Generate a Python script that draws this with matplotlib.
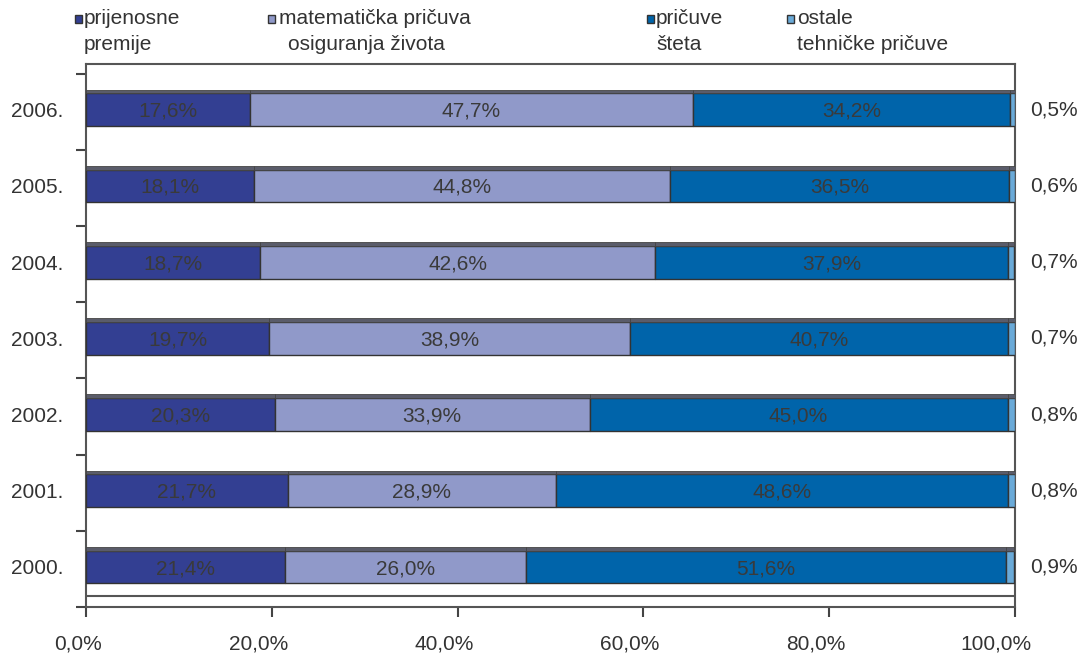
import matplotlib
matplotlib.use("Agg")
import matplotlib.pyplot as plt
from matplotlib.patches import Rectangle
from matplotlib.ticker import FixedLocator
from matplotlib.transforms import ScaledTranslation

plt.rcParams['font.family'] = ['Liberation Sans', 'DejaVu Sans']

years = ["2000.", "2001.", "2002.", "2003.", "2004.", "2005.", "2006."]
series_names = ["prijenosne\npremije", "matematička pričuva\nosiguranja života",
                "pričuve\nšteta", "ostale\ntehničke pričuve"]
prijenosne = [21.4, 21.7, 20.3, 19.7, 18.7, 18.1, 17.6]
matematicka = [26.0, 28.9, 33.9, 38.9, 42.6, 44.8, 47.7]
steta = [51.6, 48.6, 45.0, 40.7, 37.9, 36.5, 34.2]
ostale = [0.9, 0.8, 0.8, 0.7, 0.7, 0.6, 0.5]
xticks = [0, 20, 40, 60, 80, 100]
xtick_labels = ["0,0%", "20,0%", "40,0%", "60,0%", "80,0%", "100,0%"]

colors = ["#333f92", "#9099c9", "#0064aa", "#6aaad8"]
strip_color = "#5a5c6a"
text_col = "#333333"
FS = 15

fig = plt.figure(figsize=(10.84, 6.57), dpi=100)
ax = fig.add_axes([86/1084, 1-607/657, 929/1084, (607-64)/657])

series = [prijenosne, matematicka, steta, ostale]
ypos = list(range(len(years)))
lefts = [0.0]*len(years)
h = 0.43
for vals, col in zip(series, colors):
    ax.barh(ypos, vals, left=lefts, height=h, color=col, edgecolor="#333333", linewidth=1.0, zorder=3)
    ax.barh([y + h/2 + 0.025 for y in ypos], vals, left=lefts, height=0.05,
            color=strip_color, edgecolor="#444444", linewidth=0.6, zorder=3)
    lefts = [l + v for l, v in zip(lefts, vals)]

def fmt(v):
    return f"{v:.1f}%".replace(".", ",")

# in-bar labels for the first three series
lefts = [0.0]*len(years)
for vals in series[:3]:
    for y, l, v in zip(ypos, lefts, vals):
        ax.text(l + v/2, y - 0.02, fmt(v), ha="center", va="center", fontsize=FS,
                color="#3a3a3a", zorder=4)
    lefts = [l + v for l, v in zip(lefts, vals)]
for y, v in zip(ypos, ostale):
    ax.text(101.6, y, fmt(v), ha="left", va="center", fontsize=FS, color=text_col, clip_on=False)

# floor line
ax.axhline(-0.38, color="#555555", lw=1.5, zorder=2)

ax.set_xlim(0, 100)
ax.set_ylim(-0.525, 6.6)
ax.set_xticks(xticks)
ax.set_xticklabels(xtick_labels, fontsize=FS, color=text_col)
ax.set_yticks(ypos)
ax.set_yticklabels(years, fontsize=FS, color=text_col)
ax.tick_params(axis="y", which="major", length=0, pad=16.5)
ax.yaxis.set_minor_locator(FixedLocator([k - 0.525 for k in range(8)]))
ax.tick_params(axis="y", which="minor", length=7, width=1.5, color="#444444", direction="out")
ax.tick_params(axis="x", length=7, width=1.5, color="#444444", pad=13)
off = ScaledTranslation(16/100, 0, fig.dpi_scale_trans)
for lab in ax.get_xticklabels():
    lab.set_horizontalalignment("right")
    lab.set_transform(lab.get_transform() + off)
for s in ax.spines.values():
    s.set_color("#555555")
    s.set_linewidth(1.5)

# legend
leg_x = [75, 268, 647, 787]
leg_tx = [[84, 84], [279, 288], [656, 656], [797, 797]]
for name, col, sx, tx in zip(series_names, colors, leg_x, leg_tx):
    l1, l2 = name.split("\n")
    fig.patches.append(Rectangle((sx/1084, 1-23/657), 7/1084, 8/657, transform=fig.transFigure,
                                 facecolor=col, edgecolor="#333333", linewidth=1.0))
    fig.text(tx[0]/1084, 1-19/657, l1, fontsize=FS, color=text_col, ha="left", va="center")
    fig.text(tx[1]/1084, 1-45/657, l2, fontsize=FS, color=text_col, ha="left", va="center")

fig.savefig("out.png", dpi=100)
